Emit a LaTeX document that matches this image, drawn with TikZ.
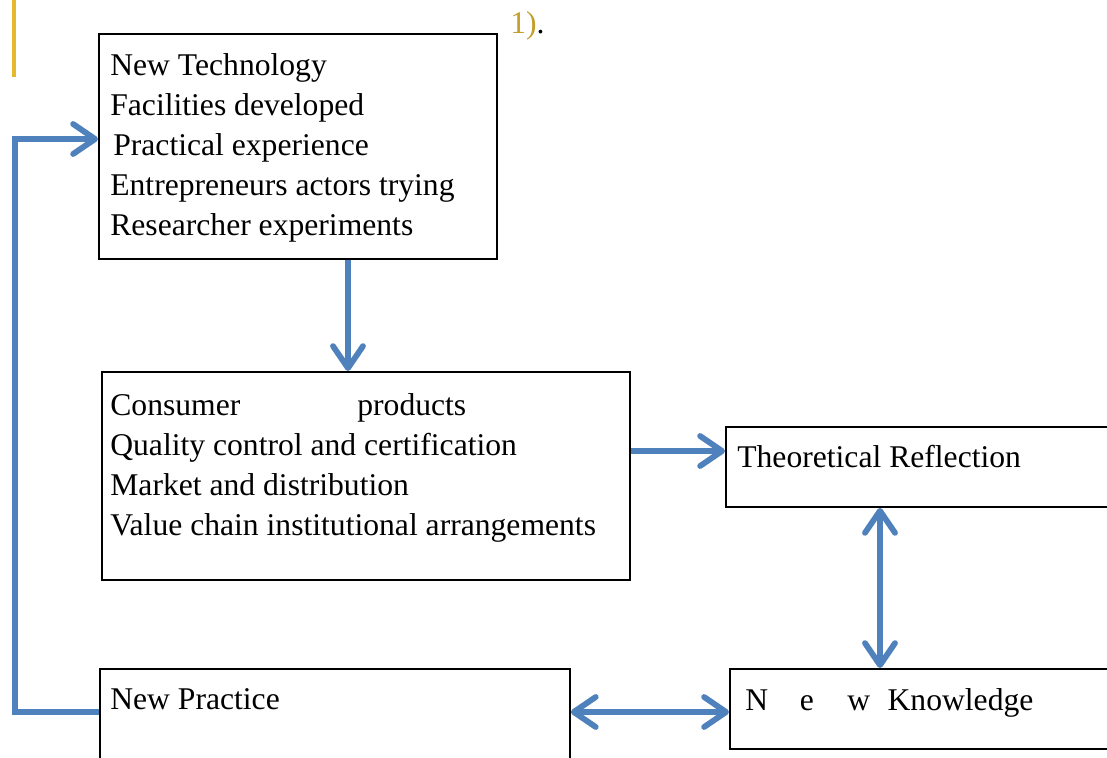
\documentclass[tikz,border=0pt]{standalone}
\usepackage{fontspec}
\setmainfont{Liberation Serif}
\usetikzlibrary{arrows.meta}
\definecolor{flowblue}{RGB}{79,129,189}
\definecolor{goldbar}{RGB}{229,185,43}
\definecolor{goldtext}{RGB}{196,158,44}
\tikzset{
	box/.style={draw,line width=1.1pt,inner sep=0pt,anchor=north west},
	txt/.style={inner sep=0pt,anchor=base west,font=\fontsize{18}{22.7}\selectfont},
	flow/.style={draw=flowblue,line width=3.3pt},
}
\begin{document}
\begin{tikzpicture}[x=0.02cm,y=-0.02cm,>={Straight Barb[round,length=0.44cm,width=0.6cm]}]
		\clip (0,0) rectangle (1107,758);
		\fill[goldbar] (12,0) rectangle (16,77);
		\node[txt,text=goldtext] (fig) at (510,33) {1)\textcolor{black}{.}};
		% boxes
		\node[box,minimum width=7.96cm,minimum height=4.5cm] (tech) at (98,33) {};
		\node[box,minimum width=10.56cm,minimum height=4.16cm] (prod) at (101,371) {};
		\node[box,minimum width=7.9cm,minimum height=1.6cm] (theo) at (725,426) {};
		\node[box,minimum width=9.4cm,minimum height=2.64cm] (prac) at (99,668) {};
		\node[box,minimum width=7.82cm,minimum height=1.6cm] (know) at (729,668) {};
		% texts
		\foreach \t [count=\i] in {New Technology,Facilities developed,{\hspace{1.7pt}Practical experience},Entrepreneurs actors trying,Researcher experiments}
			\node[txt] (tech\i) at (110,35+40*\i) {\t};
		\foreach \t [count=\i] in {{\makebox[140.6pt][l]{Consumer}products},Quality control and certification,Market and distribution,Value chain institutional arrangements}
			\node[txt] (prod\i) at (110,375+40*\i) {\t};
		\node[txt] (theot) at (737,467) {Theoretical Reflection};
		\node[txt] (pract) at (110,709) {New Practice};
		\node[txt] (knowt) at (745,710) {\makebox[31pt][l]{N}\makebox[27pt][l]{e}\makebox[23pt][l]{w}Knowledge};
		% connectors
		\coordinate (down) at (348,0);
		\coordinate (right) at (0,451);
		\coordinate (both) at (880,0);
		\coordinate (low) at (0,712);
		\coordinate (back) at (15,139);
		\draw[flow,->] (tech.south -| down) -- (prod.north -| down);
		\draw[flow,->] (prod.east |- right) -- (theo.west |- right);
		\draw[flow,<->] (theo.south -| both) -- (know.north -| both);
		\draw[flow,<->] (prac.east |- low) -- (know.west |- low);
		\draw[flow,->] (prac.west |- low) -- (back |- low) -- (back) -- (tech.west |- back);
	\end{tikzpicture}
\end{document}
